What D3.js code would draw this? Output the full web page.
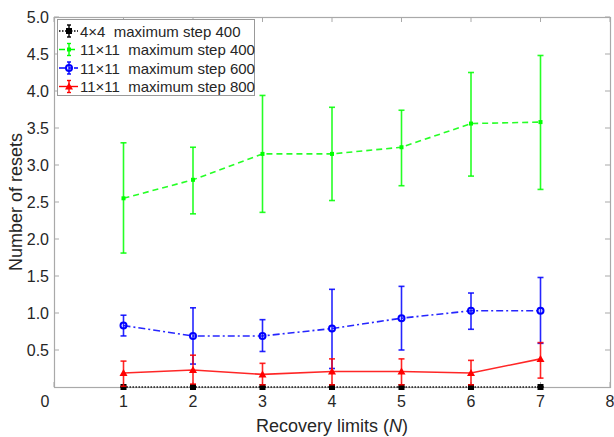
<!DOCTYPE html>
<html lang="en">
<head>
<meta charset="UTF-8" />
<title>Number of resets vs recovery limits</title>
<script src="https://d3js.org/d3.v7.min.js"></script>
<style>
  body { margin: 0; background: #fff; }
  svg text { font-family: Arial, "Liberation Sans", sans-serif; fill: #262626; }
</style>
</head>
<body>
<div id="chart"></div>
<script>
// recovery limits N
var limits = [1, 2, 3, 4, 5, 6, 7]

// mean number of resets, with lower / upper ends of the error bars
var grid4Step400 = [0, 0, 0, 0, 0, 0, 0]
var grid4Step400Lo = [0, 0, 0, 0, 0, 0, 0]
var grid4Step400Hi = [0, 0, 0, 0, 0, 0, 0]

var grid11Step400 = [2.55, 2.80, 3.15, 3.15, 3.24, 3.56, 3.58]
var grid11Step400Lo = [1.81, 2.34, 2.36, 2.52, 2.72, 2.85, 2.67]
var grid11Step400Hi = [3.30, 3.24, 3.94, 3.78, 3.74, 4.25, 4.48]

var grid11Step600 = [0.83, 0.69, 0.69, 0.79, 0.93, 1.03, 1.03]
var grid11Step600Lo = [0.69, 0.31, 0.48, 0.25, 0.50, 0.78, 0.59]
var grid11Step600Hi = [0.97, 1.07, 0.91, 1.32, 1.36, 1.27, 1.48]

var grid11Step800 = [0.19, 0.23, 0.17, 0.21, 0.21, 0.19, 0.38]
var grid11Step800Lo = [0.01, 0.04, 0.03, 0.03, 0.03, 0.03, 0.12]
var grid11Step800Hi = [0.35, 0.43, 0.32, 0.38, 0.38, 0.36, 0.60]

var seriesNames = ["4\u00d74  maximum step 400", "11\u00d711  maximum step 400",
                   "11\u00d711  maximum step 600", "11\u00d711  maximum step 800"]

var xTicks = [0, 1, 2, 3, 4, 5, 6, 7, 8]
var yTicks = [0.5, 1.0, 1.5, 2.0, 2.5, 3.0, 3.5, 4.0, 4.5, 5.0]

var width = 614, height = 437
// plot box edges (named so they don't clash with window.top)
var padL = 54, padR = 610, padT = 17, padB = 387

var svg = d3.select("#chart").append("svg")
  .attr("width", width)
  .attr("height", height)

var x = d3.scaleLinear().domain([0, 8]).range([padL, padR])
var y = d3.scaleLinear().domain([0, 5]).range([padB, padT])

// axes frame
var frameColor = "#a9a9a9"
svg.append("rect")
  .attr("x", padL + 0.5).attr("y", padT + 0.5)
  .attr("width", padR - padL).attr("height", padB - padT)
  .attr("fill", "none").attr("stroke", frameColor).attr("stroke-width", 1.2)

// tick marks, pointing inward, on all four sides
var tickLen = 5
xTicks.forEach(function (t) {
  svg.append("line").attr("x1", x(t)).attr("x2", x(t)).attr("y1", padB).attr("y2", padB - tickLen)
    .attr("stroke", frameColor)
  svg.append("line").attr("x1", x(t)).attr("x2", x(t)).attr("y1", padT).attr("y2", padT + tickLen)
    .attr("stroke", frameColor)
})
yTicks.forEach(function (t) {
  svg.append("line").attr("x1", padL).attr("x2", padL + tickLen).attr("y1", y(t)).attr("y2", y(t))
    .attr("stroke", frameColor)
  svg.append("line").attr("x1", padR).attr("x2", padR - tickLen).attr("y1", y(t)).attr("y2", y(t))
    .attr("stroke", frameColor)
})

// tick labels
svg.selectAll(".xlab").data(xTicks).enter().append("text")
  .attr("x", function (d) { return d === 0 ? x(d) - 9 : x(d) })
  .attr("y", 407)
  .attr("text-anchor", "middle")
  .style("font-size", "16px")
  .text(function (d) { return d })

svg.selectAll(".ylab").data(yTicks).enter().append("text")
  .attr("x", 49)
  .attr("y", function (d) { return y(d) + 6 })
  .attr("text-anchor", "end")
  .style("font-size", "16px")
  .text(function (d) { return d.toFixed(1) })

// axis titles
var xt = svg.append("text")
  .attr("x", x(4)).attr("y", 432)
  .attr("text-anchor", "middle")
  .style("font-size", "18px")
xt.append("tspan").text("Recovery limits (")
xt.append("tspan").style("font-style", "italic").text("N")
xt.append("tspan").text(")")

svg.append("text")
  .attr("transform", "translate(22," + ((padT + padB) / 2) + ") rotate(-90)")
  .attr("text-anchor", "middle")
  .style("font-size", "18px")
  .text("Number of resets")

// series definitions
var series = [
  { name: seriesNames[0], mean: grid4Step400, lo: grid4Step400Lo, hi: grid4Step400Hi,
    color: "#000000", dash: "1.5,1.5", marker: "square" },
  { name: seriesNames[1], mean: grid11Step400, lo: grid11Step400Lo, hi: grid11Step400Hi,
    color: "#00ff00", dash: "6,4", marker: "dot" },
  { name: seriesNames[2], mean: grid11Step600, lo: grid11Step600Lo, hi: grid11Step600Hi,
    color: "#0000ff", dash: "7,3,2,3", marker: "circle" },
  { name: seriesNames[3], mean: grid11Step800, lo: grid11Step800Lo, hi: grid11Step800Hi,
    color: "#ff0000", dash: null, marker: "triangle" }
]

function drawMarker(g, kind, cx, cy, color) {
  if (kind === "square") {
    g.append("rect").attr("x", cx - 3).attr("y", cy - 3).attr("width", 6).attr("height", 6)
      .attr("fill", color)
  } else if (kind === "dot") {
    g.append("rect").attr("x", cx - 2).attr("y", cy - 2).attr("width", 4).attr("height", 4)
      .attr("fill", color)
  } else if (kind === "circle") {
    g.append("circle").attr("cx", cx).attr("cy", cy).attr("r", 3)
      .attr("fill", "none").attr("stroke", color).attr("stroke-width", 2)
  } else if (kind === "triangle") {
    g.append("path")
      .attr("d", "M" + cx + "," + (cy - 4) + "L" + (cx + 4) + "," + (cy + 3) + "L" + (cx - 4) + "," + (cy + 3) + "Z")
      .attr("fill", color)
  }
}

var line = d3.line()
  .x(function (d) { return x(d[0]) })
  .y(function (d) { return y(d[1]) })

var capW = 3
series.forEach(function (s) {
  var g = svg.append("g")
  // error bars
  limits.forEach(function (n, i) {
    g.append("line").attr("x1", x(n)).attr("x2", x(n)).attr("y1", y(s.lo[i])).attr("y2", y(s.hi[i]))
      .attr("stroke", s.color).attr("stroke-width", 1.6).attr("opacity", 0.85)
    ;[s.lo[i], s.hi[i]].forEach(function (v) {
      g.append("line").attr("x1", x(n) - capW).attr("x2", x(n) + capW).attr("y1", y(v)).attr("y2", y(v))
        .attr("stroke", s.color).attr("stroke-width", 1.6).attr("opacity", 0.85)
    })
  })
  // connecting line
  g.append("path")
    .datum(limits.map(function (n, i) { return [n, s.mean[i]] }))
    .attr("d", line)
    .attr("fill", "none")
    .attr("stroke", s.color)
    .attr("stroke-width", 1.6)
    .attr("stroke-dasharray", s.dash)
    .attr("opacity", 0.85)
  limits.forEach(function (n, i) { drawMarker(g, s.marker, x(n), y(s.mean[i]), s.color) })
})

// legend
var lg = svg.append("g")
lg.append("rect")
  .attr("x", 57.5).attr("y", 19.5).attr("width", 197).attr("height", 76)
  .attr("fill", "#fff").attr("stroke", "#999").attr("stroke-width", 1)

series.forEach(function (s, i) {
  var ly = 31 + i * 18.5
  lg.append("line").attr("x1", 59).attr("x2", 78).attr("y1", ly).attr("y2", ly)
    .attr("stroke", s.color).attr("stroke-width", 1.4).attr("stroke-dasharray", s.dash)
  lg.append("line").attr("x1", 69).attr("x2", 69).attr("y1", ly - 6).attr("y2", ly + 6)
    .attr("stroke", s.color).attr("stroke-width", 1.4)
  lg.append("line").attr("x1", 67).attr("x2", 71).attr("y1", ly - 6).attr("y2", ly - 6)
    .attr("stroke", s.color).attr("stroke-width", 1.4)
  lg.append("line").attr("x1", 67).attr("x2", 71).attr("y1", ly + 6).attr("y2", ly + 6)
    .attr("stroke", s.color).attr("stroke-width", 1.4)
  drawMarker(lg, s.marker, 69, ly, s.color)
  lg.append("text")
    .attr("x", 80).attr("y", ly + 5.5)
    .attr("xml:space", "preserve")
    .style("white-space", "pre")
    .style("font-size", "15px")
    .text(s.name)
})
</script>
</body>
</html>
